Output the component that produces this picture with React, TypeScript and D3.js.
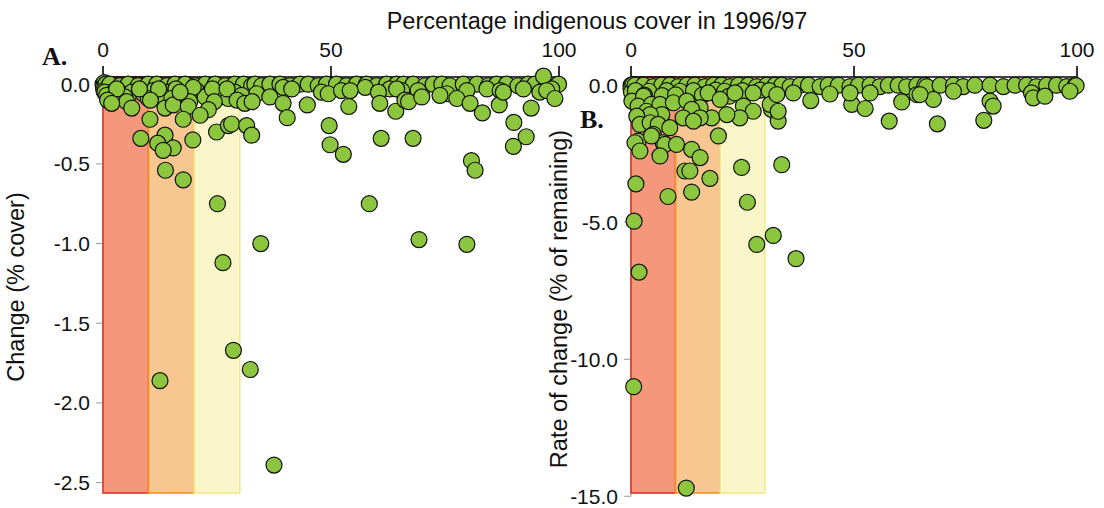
import { scaleLinear } from 'd3';

// x axis: percentage indigenous cover in 1996/97
const xTicks = [0, 50, 100];
const yTicksA = [0, -0.5, -1, -1.5, -2, -2.5];
const yTicksB = [0, -5, -10, -15];

// threshold bands (0-10, 10-20, 20-30 % cover)
const bandEdges = [0, 10, 20, 30];
const bandFill = ['#f4977b', '#f8c690', '#fbf5ca'];
const bandStroke = ['#e2302a', '#f5941f', '#f4e98f'];

// A: change (% cover) vs cover
const pointsA: [number, number][] = [
  [0, 0], [0.3, 0.01], [0.1, -0.02], [0.6, 0], [0.2, -0.04],
  [1.5, 0], [3.7, -0.01], [5.5, 0], [7.7, -0.01], [9.9, 0], [11.8, 0], [14, -0.01], [15.8, 0],
  [18, 0], [20.2, -0.01], [22.4, 0], [24.6, 0], [26.8, -0.01], [28.9, 0], [30.8, 0], [32.6, -0.01],
  [33.3, 0], [34.8, -0.01], [36.6, 0], [38.8, 0], [41, -0.01], [43.2, 0], [45, 0], [47.2, -0.01],
  [49, 0], [51.2, 0], [53.4, -0.01], [55.6, 0], [57.8, 0], [60, -0.01], [62.2, 0], [64.4, 0], [66.2, -0.01],
  [65.9, 0], [68, 0], [70.6, -0.01], [72.4, 0], [74.3, 0], [76.1, -0.01], [79, 0], [82, 0], [84.5, -0.01],
  [86.3, 0], [88.5, 0], [91, -0.01], [93.2, 0], [94.7, 0], [97.3, -0.01], [99.9, 0], [96.6, 0.05],
  [0.4, -0.05], [2.6, -0.04], [6.3, -0.05], [8.8, -0.06], [11, -0.04], [14.3, -0.05], [17.3, -0.06],
  [20.5, -0.04], [23.5, -0.05], [26, -0.06], [28.9, -0.05],
  [33.7, -0.06], [39.5, -0.02], [41.4, -0.03], [47.9, -0.05], [49.4, -0.06], [52.3, -0.04], [57.5, -0.02],
  [62.9, -0.03], [65.5, -0.04], [69.1, -0.04], [75.4, -0.06], [79.8, -0.04], [84.2, -0.03], [87.1, -0.04],
  [92.2, -0.03], [95.8, -0.05], [98.4, -0.03],
  [0.8, -0.07], [4.8, -0.08], [9.9, -0.09], [12.9, -0.07], [19.1, -0.07], [22.4, -0.08], [25.7, -0.08],
  [27.5, -0.09], [30.4, -0.07],
  [3, -0.03], [8, -0.03], [12.2, -0.03], [16, -0.03], [19.8, -0.02], [24, -0.03], [27.2, -0.03],
  [1, -0.1], [5.2, -0.11], [10.4, -0.1], [15.1, -0.09], [19, -0.11], [24.4, -0.11], [29.4, -0.1],
  [1.9, -0.12], [6.3, -0.15], [13.6, -0.15], [15.4, -0.13], [18.7, -0.14], [23.1, -0.16], [21.3, -0.195],
  [17.6, -0.22], [10.3, -0.22], [31.1, -0.12], [16.9, -0.05],
  [32.7, -0.11], [36.6, -0.08], [39.5, -0.12], [40.4, -0.21], [44.8, -0.13], [49.6, -0.26], [49.8, -0.38],
  [52.7, -0.44], [53.9, -0.14], [54.2, -0.04], [60.4, -0.05], [60.7, -0.12], [61, -0.34], [64.2, -0.17],
  [64.4, -0.03], [66.2, -0.1], [68, -0.34],
  [67, -0.11], [69.9, -0.08], [73.9, -0.07], [77.6, -0.09], [80.5, -0.12], [83.2, -0.18], [86.9, -0.13],
  [87.8, -0.05], [93.9, -0.15], [90.1, -0.24], [92.8, -0.33], [90, -0.39], [97.3, -0.04], [99.1, -0.09],
  [80.8, -0.48], [81.6, -0.54],
  [8.3, -0.34], [13.6, -0.32], [12, -0.37], [15.4, -0.4], [13.2, -0.415], [19.7, -0.35], [24.9, -0.3],
  [27.5, -0.26], [28.2, -0.25], [31.5, -0.26], [32.6, -0.32], [13.7, -0.54], [17.6, -0.6], [25.1, -0.75],
  [58.4, -0.75], [34.6, -1], [69.3, -0.975], [79.8, -1.005], [26.3, -1.12], [28.6, -1.67], [32.3, -1.79],
  [12.5, -1.86], [37.5, -2.39],
];

// B: rate of change (% of remaining) vs cover
const pointsB: [number, number][] = [
  [0, 0], [0.2, -0.05], [0, -0.12], [0.4, 0.02], [0.1, -0.25],
  [0.9, 0], [2.8, 0], [5, -0.05], [6.9, 0], [8.7, 0], [10.6, -0.05], [12.5, 0], [14.3, 0], [16.6, -0.05],
  [18.5, 0], [20.3, 0], [22.2, -0.05], [24.1, 0], [26.3, 0], [28.2, -0.05], [30.4, 0], [32.3, 0],
  [33.8, 0], [35.7, -0.05], [37.9, 0], [39.8, 0], [42.4, -0.05], [44.2, 0], [46.5, 0], [49.1, -0.05],
  [51, 0], [53.6, 0], [55.8, -0.05], [57.7, 0], [59.9, 0], [61.8, -0.05], [64.1, 0], [65.9, 0],
  [66.3, -0.05], [69.3, 0], [72.3, 0], [74.5, -0.05], [77.1, 0], [80.5, 0], [83.5, -0.05], [86.1, 0],
  [88.7, 0], [90.9, -0.05], [93.2, 0], [95.4, 0], [97.7, -0.05], [99.6, 0], [99.8, -0.02],
  [1, -0.2], [4, -0.22], [8, -0.2], [11, -0.22], [14, -0.2], [19, -0.18], [21, -0.22], [25, -0.2],
  [29, -0.18], [31, -0.2], [3, -0.36], [7, -0.38], [10, -0.35], [16, -0.36], [22, -0.4],
  [0.2, -0.58], [2.8, -0.4], [1.6, -0.76], [4.6, -0.7], [3.5, -0.95], [6.5, -0.7], [9.5, -0.64],
  [12.5, -0.58], [15.5, -0.82], [17.3, -0.28], [20, -0.52], [23.3, -0.28], [25.2, -0.76], [27.4, -0.28],
  [27.4, -0.95], [31.5, -0.88], [33, -1.31], [13.6, -0.88], [18.1, -1.19], [15.5, -1.19], [11.7, -1.19],
  [6.9, -1.07], [4.3, -1.07], [1.3, -1.13], [2, -1.43], [4.3, -1.37], [6.1, -1.43], [24.4, -1.19],
  [14, -1.31], [21.5, -1.07],
  [1.6, -2.04], [8.7, -1.55], [5, -1.79], [7.2, -2.1], [0.9, -2.1], [2, -2.4], [4.6, -1.85], [7.6, -2.16],
  [10.2, -2.16], [13.6, -2.34], [15.5, -2.64], [6.5, -2.58], [19.6, -1.85], [12.1, -3.13], [13.2, -3.13],
  [17.7, -3.4], [24.8, -3], [1.1, -3.6], [8.3, -4.06], [13.6, -3.9], [26.1, -4.27], [33.8, -2.9],
  [0.7, -4.96], [31.9, -5.48], [28.2, -5.81], [37, -6.33], [1.8, -6.82], [0.6, -11], [12.4, -14.7],
  [31.2, -0.7], [33, -0.95], [36.4, -0.28], [40.3, -0.56], [44.6, -0.32], [49.5, -0.7], [52.5, -0.85],
  [53.6, -0.28], [57.9, -1.31], [60.7, -0.61], [64.1, -0.34], [49.1, -0.28], [32.7, -0.34],
  [67.8, -0.52], [80.5, -0.58], [81.2, -0.76], [89.8, -0.28], [90.2, -0.46], [92.8, -0.4], [72.3, -0.22],
  [98.4, -0.22], [64.8, -0.34], [68.7, -1.41], [79.1, -1.28],
];

const sans = 'Liberation Sans, Arial, Helvetica, sans-serif';
const serif = 'Liberation Serif, Times New Roman, serif';
const plotTop = 77;
const plotBottom = 493;

type PanelProps = {
  points: [number, number][];
  yTicks: number[];
  left: number;
  right: number;
  yMax: number;
  yMin: number;
};

function Panel({ points, yTicks, left, right, yMax, yMin }: PanelProps) {
  const x = scaleLinear().domain([0, 100]).range([left, right]);
  const y = scaleLinear().domain([yMax, yMin]).range([plotTop, plotBottom]);
  const lowTick = yTicks[yTicks.length - 1];

  return (
    <g>
      {/* y axis (grey) */}
      <line x1={x(0)} x2={x(0)} y1={y(0)} y2={y(lowTick)} stroke="#9a9a9a" strokeWidth={1} />
      {yTicks.map((t) => (
        <g key={t}>
          <line x1={x(0) - 7} x2={x(0)} y1={y(t)} y2={y(t)} stroke="#9a9a9a" strokeWidth={1} />
          <text
            x={x(0) - 13}
            y={y(t)}
            dy="0.35em"
            textAnchor="end"
            fontFamily={sans}
            fontSize={21}
            fill="#111"
          >
            {t.toFixed(1)}
          </text>
        </g>
      ))}

      {/* bands */}
      {bandFill.map((fill, i) => (
        <rect
          key={i}
          x={x(bandEdges[i])}
          y={plotTop}
          width={x(bandEdges[i + 1]) - x(bandEdges[i])}
          height={plotBottom - plotTop}
          fill={fill}
          stroke={bandStroke[i]}
          strokeWidth={1.6}
        />
      ))}

      {/* top x axis */}
      <line x1={x(0)} x2={x(100)} y1={plotTop} y2={plotTop} stroke="#000" strokeWidth={1.6} />
      {xTicks.map((t) => (
        <g key={t}>
          <line x1={x(t)} x2={x(t)} y1={plotTop} y2={plotTop - 11} stroke="#000" strokeWidth={1.6} />
          <text x={x(t)} y={57} textAnchor="middle" fontFamily={sans} fontSize={21} fill="#111">
            {t}
          </text>
        </g>
      ))}

      {/* points */}
      {points.map((d, i) => (
        <circle
          key={i}
          cx={x(d[0])}
          cy={y(d[1])}
          r={8}
          fill="#8cc63f"
          stroke="#111"
          strokeWidth={1.2}
        />
      ))}
    </g>
  );
}

export default function App() {
  return (
    <svg
      width={1104}
      height={508}
      style={{ position: 'absolute', left: 0, top: 0, background: '#fff' }}
    >
      <rect width={1104} height={508} fill="#fff" />
      <text x={597} y={29} textAnchor="middle" fontFamily={sans} fontSize={23.5} fill="#111">
        Percentage indigenous cover in 1996/97
      </text>

      <Panel points={pointsA} yTicks={yTicksA} left={103} right={559} yMax={0.045} yMin={-2.565} />
      <Panel points={pointsB} yTicks={yTicksB} left={631} right={1077} yMax={0.3} yMin={-14.88} />

      <text x={42} y={65} fontFamily={serif} fontWeight="bold" fontSize={26} fill="#111">
        A.
      </text>
      <text x={580} y={128} fontFamily={serif} fontWeight="bold" fontSize={26} fill="#111">
        B.
      </text>

      <text
        transform="translate(24,287) rotate(-90)"
        textAnchor="middle"
        fontFamily={sans}
        fontSize={23.5}
        fill="#111"
      >
        Change (% cover)
      </text>
      <text
        transform="translate(567,299) rotate(-90)"
        textAnchor="middle"
        fontFamily={sans}
        fontSize={23.5}
        fill="#111"
      >
        Rate of change (% of remaining)
      </text>
    </svg>
  );
}
